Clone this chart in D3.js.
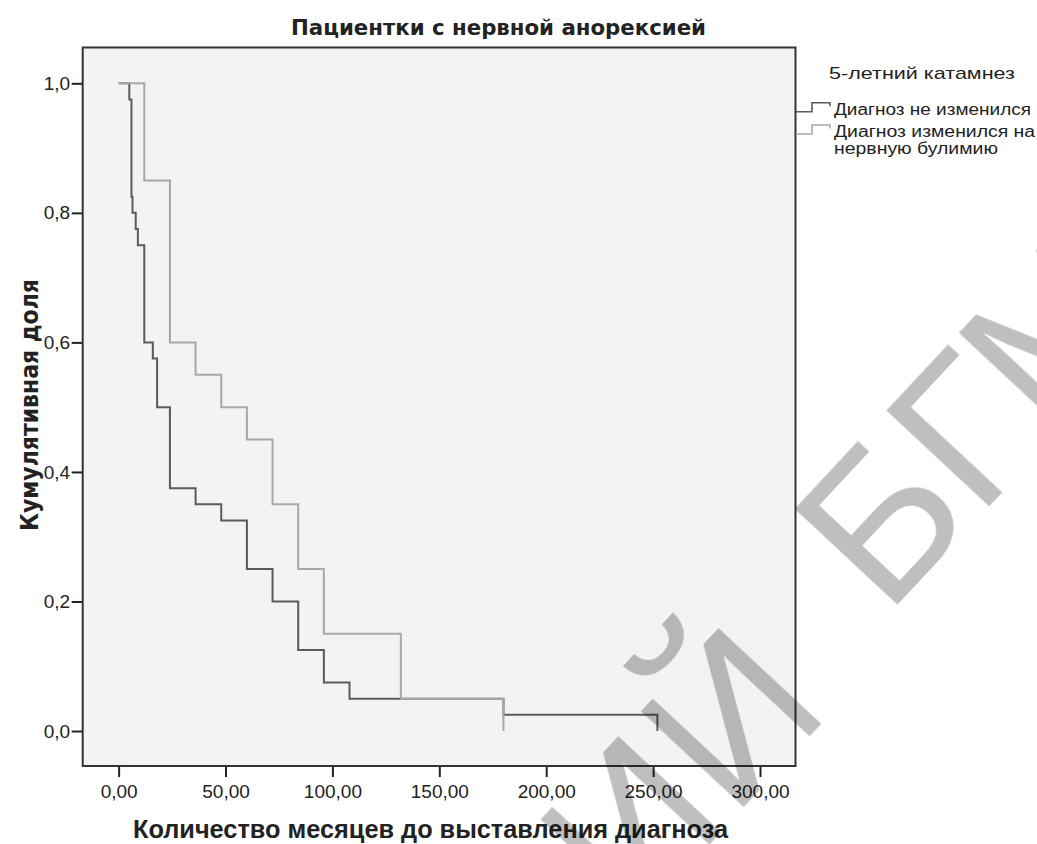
<!DOCTYPE html>
<html>
<head>
<meta charset="utf-8">
<script src="https://cdn.jsdelivr.net/npm/d3@7"></script>
<style>
  body { margin: 0; background: #fff; }
  svg text { font-family: "Liberation Sans", Arial, sans-serif; }
</style>
</head>
<body>
<script>
// survival steps
const stayedTimes = [0, 5, 6, 6.5, 8, 9, 12, 16, 18, 24, 36, 48, 60, 72, 84, 96, 108, 180, 252];
const stayedValues = [1, 0.975, 0.825, 0.8, 0.775, 0.75, 0.6, 0.575, 0.5, 0.375, 0.35, 0.325, 0.25, 0.2, 0.125, 0.075, 0.05, 0.025, 0];
const changedTimes = [0, 12, 24, 36, 48, 60, 72, 84, 96, 132, 180];
const changedValues = [1, 0.85, 0.6, 0.55, 0.5, 0.45, 0.35, 0.25, 0.15, 0.05, 0];

const xTicks = [0, 50, 100, 150, 200, 250, 300];
const yTicks = [0, 0.2, 0.4, 0.6, 0.8, 1.0];
const legendTitle = "5-летний катамнез";
const legendLabels = [["Диагноз не изменился"], ["Диагноз изменился на", "нервную булимию"]];
const lineColors = ["#5a5a5a", "#a8a8a8"];

const W = 1037, H = 844;
const plotL = 82.7, plotR = 795.5, plotT = 47.5, plotB = 766;

const svg = d3.select("body").append("svg").attr("width", W).attr("height", H);

const x = d3.scaleLinear().domain([-16.8, 316.6]).range([plotL, plotR]);
const y = d3.scaleLinear().domain([-0.054, 1.0553]).range([plotB, plotT]);

// plot background
svg.append("rect").attr("x", plotL).attr("y", plotT).attr("width", plotR - plotL).attr("height", plotB - plotT)
    .attr("fill", "#f2f4f3");

//axes
const xAxis = d3.axisBottom(x).tickValues(xTicks).tickSize(11).tickSizeOuter(0)
    .tickFormat(d => d3.format(".2f")(d).replace(".", ","));
svg.append("g").attr("transform", "translate(0," + plotB + ")").call(xAxis)
    .call(g => g.select(".domain").remove())
    .call(g => g.selectAll("line").attr("stroke", "#222").attr("stroke-width", 2))
    .call(g => g.selectAll("text").attr("font-size", 19).attr("fill", "#222").attr("dy", 0).attr("y", 32));

const yAxis = d3.axisLeft(y).tickValues(yTicks).tickSize(11).tickSizeOuter(0)
    .tickFormat(d => d3.format(".1f")(d).replace(".", ","));
svg.append("g").attr("transform", "translate(" + plotL + ",0)").call(yAxis)
    .call(g => g.select(".domain").remove())
    .call(g => g.selectAll("line").attr("stroke", "#222").attr("stroke-width", 2))
    .call(g => g.selectAll("text").attr("font-size", 19).attr("fill", "#222").attr("x", -12.5));

// step lines
const step = d3.line().x(d => x(d[0])).y(d => y(d[1])).curve(d3.curveStepAfter);
const series = [d3.zip(stayedTimes, stayedValues), d3.zip(changedTimes, changedValues)];
series.forEach((s, i) => {
    svg.append("path").datum(s).attr("d", step).attr("fill", "none")
        .attr("stroke", lineColors[i]).attr("stroke-width", 2);
});

svg.append("rect").attr("x", plotL).attr("y", plotT).attr("width", plotR - plotL).attr("height", plotB - plotT)
    .attr("fill", "none").attr("stroke", "#333").attr("stroke-width", 2);

// titles
svg.append("text").attr("x", 498.5).attr("y", 35).attr("text-anchor", "middle")
    .attr("font-size", 21).attr("font-weight", "bold").attr("fill", "#222")
    .style("font-family", "'Liberation Sans Narrow', 'DejaVu Sans Condensed', sans-serif")
    .attr("textLength", 415).attr("lengthAdjust", "spacingAndGlyphs")
    .text("Пациентки с нервной анорексией");

svg.append("text").attr("x", 430.5).attr("y", 838).attr("text-anchor", "middle")
    .attr("font-size", 25).attr("font-weight", "bold").attr("fill", "#222")
    .attr("textLength", 595).attr("lengthAdjust", "spacingAndGlyphs")
    .text("Количество месяцев до выставления диагноза");

svg.append("text").attr("transform", "translate(38,405) rotate(-90)").attr("text-anchor", "middle")
    .attr("font-size", 24).attr("font-weight", "bold").attr("fill", "#222")
    .style("font-family", "'Liberation Sans Narrow', 'DejaVu Sans Condensed', sans-serif")
    .attr("textLength", 252).attr("lengthAdjust", "spacingAndGlyphs")
    .text("Кумулятивная доля");

// legend
svg.append("text").attr("x", 829).attr("y", 78.5).attr("font-size", 17).attr("fill", "#222")
    .attr("textLength", 186).attr("lengthAdjust", "spacingAndGlyphs").text(legendTitle);

const legendRows = [{ y: 111.7, lines: [115, null], widths: [197] }, { y: 134, lines: [137.3, 154], widths: [201, 164] }];
legendRows.forEach((r, i) => {
    const sym = "M796," + r.y + " H812 V" + (r.y - 9) + " H830 V" + (r.y - 5.5);
    svg.append("path").attr("d", sym).attr("fill", "none").attr("stroke", lineColors[i]).attr("stroke-width", 1.6);
    legendLabels[i].forEach((t, j) => {
        svg.append("text").attr("x", 834).attr("y", r.lines[j]).attr("font-size", 16).attr("fill", "#222")
            .attr("textLength", r.widths[j]).attr("lengthAdjust", "spacingAndGlyphs").text(t);
    });
});

// watermark
const wm = svg.append("g").style("mix-blend-mode", "multiply").attr("fill", "#bfbfbf");
wm.append("text").attr("transform", "translate(886,617) rotate(-47)").attr("font-size", 205).text("БГМУ");
wm.append("text").attr("transform", "translate(833,712) rotate(-47)").attr("font-size", 205)
    .attr("text-anchor", "end").text("РЕПОЗИТОРИЙ");
</script>
</body>
</html>
